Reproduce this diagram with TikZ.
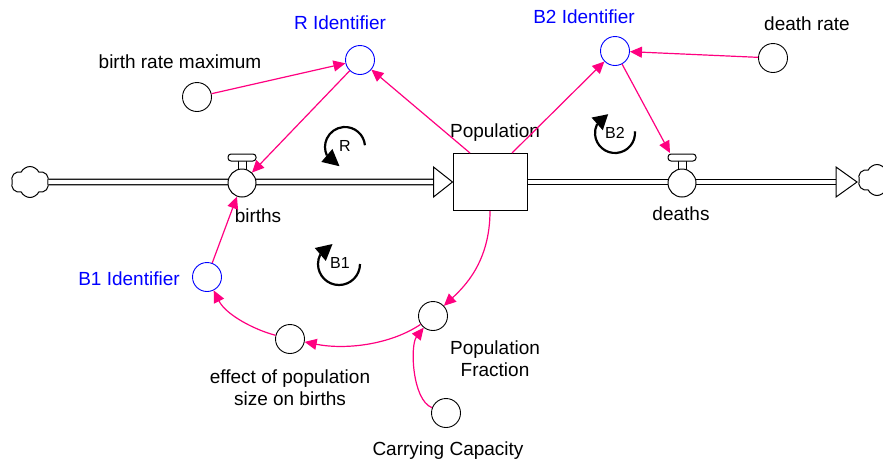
\documentclass[tikz,border=0pt]{standalone}
\usepackage{fontspec}
\setmainfont{Liberation Sans}
\usetikzlibrary{arrows.meta,shapes.symbols,calc}
\definecolor{linkpink}{RGB}{255,0,128}
\definecolor{idblue}{RGB}{0,0,255}

% loop marker: centre, radius, arc start, arc end (= head base), head tip angle
\newcommand{\loopmark}[5]{%
  \draw[line width=2.2pt] ($(#1)+(#3:#2)$) arc[start angle=#3,end angle=#4,radius=#2];
  \pgfmathsetmacro{\midang}{(#4+#5)/2}
  \fill ($(#1)+(#5:#2)$) -- ($(#1)+(#4:#2)+(\midang:8.5pt)$) -- ($(#1)+(#4:#2)+(\midang+180:8.5pt)$) -- cycle;
}

\begin{document}
\begin{tikzpicture}[x=1pt,y=1pt,
  aux/.style={circle,draw=black,fill=white,line width=0.9pt,minimum size=29pt,inner sep=0pt},
  idaux/.style={aux,draw=idblue},
  lbl/.style={font=\fontsize{19}{22}\selectfont,align=center,inner sep=0pt},
  idlbl/.style={lbl,text=idblue},
  link/.style={draw=linkpink,line width=1.2pt,-{Triangle[length=12pt,width=11pt]}},
  pipe/.style={draw=black,double=white,double distance=4.2pt,line width=1.2pt},
  stockbox/.style={rectangle,draw,fill=white,line width=1pt,minimum width=74pt,minimum height=57pt,inner sep=0pt},
  sink/.style={cloud,cloud puffs=6,cloud puff arc=130,draw,fill=white,line width=1pt,minimum width=38pt,minimum height=31pt,inner sep=0pt,aspect=1.2},
  valvebody/.style={circle,draw=black,fill=white,line width=1pt,minimum size=28pt,inner sep=0pt},
  looplbl/.style={font=\fontsize{16}{18}\selectfont,inner sep=0pt}
]
\useasboundingbox (0,0) rectangle (883,-464);

% stock, clouds
\node[stockbox] (pop) at (490,-182) {};
\node[sink] (cloudL) at (30,-182) {};
\node[sink] (cloudR) at (877,-180) {};

% pipes with hollow flow heads
\coordinate (inBase) at ($(pop.west)+(-19,0)$);
\coordinate (outTip) at (857,-182);
\coordinate (outBase) at ($(outTip)+(-21,0)$);
\draw[pipe] (cloudL.east) -- (inBase);
\draw[pipe] (pop.east) -- (outBase);
\filldraw[fill=white,line width=1pt] (pop.west) -- ++(-19,15) -- ++(0,-30) -- cycle;
\filldraw[fill=white,line width=1pt] (outTip) -- ++(-21,15) -- ++(0,-30) -- cycle;

% valves
\foreach \v/\x in {births/242,deaths/682}{
  \filldraw[fill=white,line width=1pt] (\x-4,-160) rectangle (\x+4,-170);
  \filldraw[fill=white,line width=1pt,rounded corners=3pt] (\x-14,-154) rectangle (\x+14,-161);
  \node[valvebody] (\v) at (\x,-183) {};
}
\coordinate (deathsBar) at (670,-153);

% auxiliaries
\node[aux] (brm) at (197,-97) {};
\node[idaux] (rid) at (360,-60) {};
\node[idaux] (b2) at (615,-51) {};
\node[aux] (dr) at (773,-58) {};
\node[idaux] (b1) at (207,-277) {};
\node[aux] (eff) at (290,-339) {};
\node[aux] (pf) at (433,-316) {};
\node[aux] (cc) at (446,-413) {};

% labels
\node[lbl] (brmL) at (180,-62) {birth rate maximum};
\node[idlbl] (ridL) at (340,-23) {R Identifier};
\node[idlbl] (b2L) at (584,-17) {B2 Identifier};
\node[lbl] (drL) at (807,-24) {death rate};
\node[lbl] (popL) at (495,-133) {Population};
\node[lbl] (birthsL) at (258,-216) {births};
\node[lbl] (deathsL) at (681,-214) {deaths};
\node[idlbl] (b1L) at (129,-279) {B1 Identifier};
\node[lbl] (effL) at (290,-388) {effect of population\\size on births};
\node[lbl] (pfL) at (495,-359) {Population\\Fraction};
\node[lbl] (ccL) at (448,-451) {Carrying Capacity};

% information links
\draw[link] (brm) -- (rid);
\draw[link] (rid) -- (births);
\draw[link] ([xshift=-20pt]pop.north) -- (rid);
\draw[link] ([xshift=22pt]pop.north) -- (b2);
\draw[link] (dr) -- (b2);
\draw[link] (b2) -- (deathsBar);
\draw[link] (b1) -- (births);
\draw[link] (pop.south) .. controls (490,-262) and (464,-287) .. (pf);
\draw[link] (pf) .. controls (390,-345) and (345,-350) .. (eff);
\draw[link] (eff) .. controls (255,-330) and (226,-315) .. (b1);
\draw[link] (cc) .. controls (412,-400) and (410,-345) .. (pf);

% loop markers
\coordinate (cR) at (345,-147);
\coordinate (cB2) at (615,-133);
\coordinate (cB1) at (339,-264);
\loopmark{cR}{20pt}{5}{205}{254}
\node[looplbl] (loopR) at (345,-146) {R};
\loopmark{cB2}{20pt}{5}{-207}{-250}
\node[looplbl] (loopB2) at (615,-133) {B2};
\loopmark{cB1}{21pt}{0}{-207}{-252}
\node[looplbl] (loopB1) at (340,-263) {B1};
\end{tikzpicture}
\end{document}
